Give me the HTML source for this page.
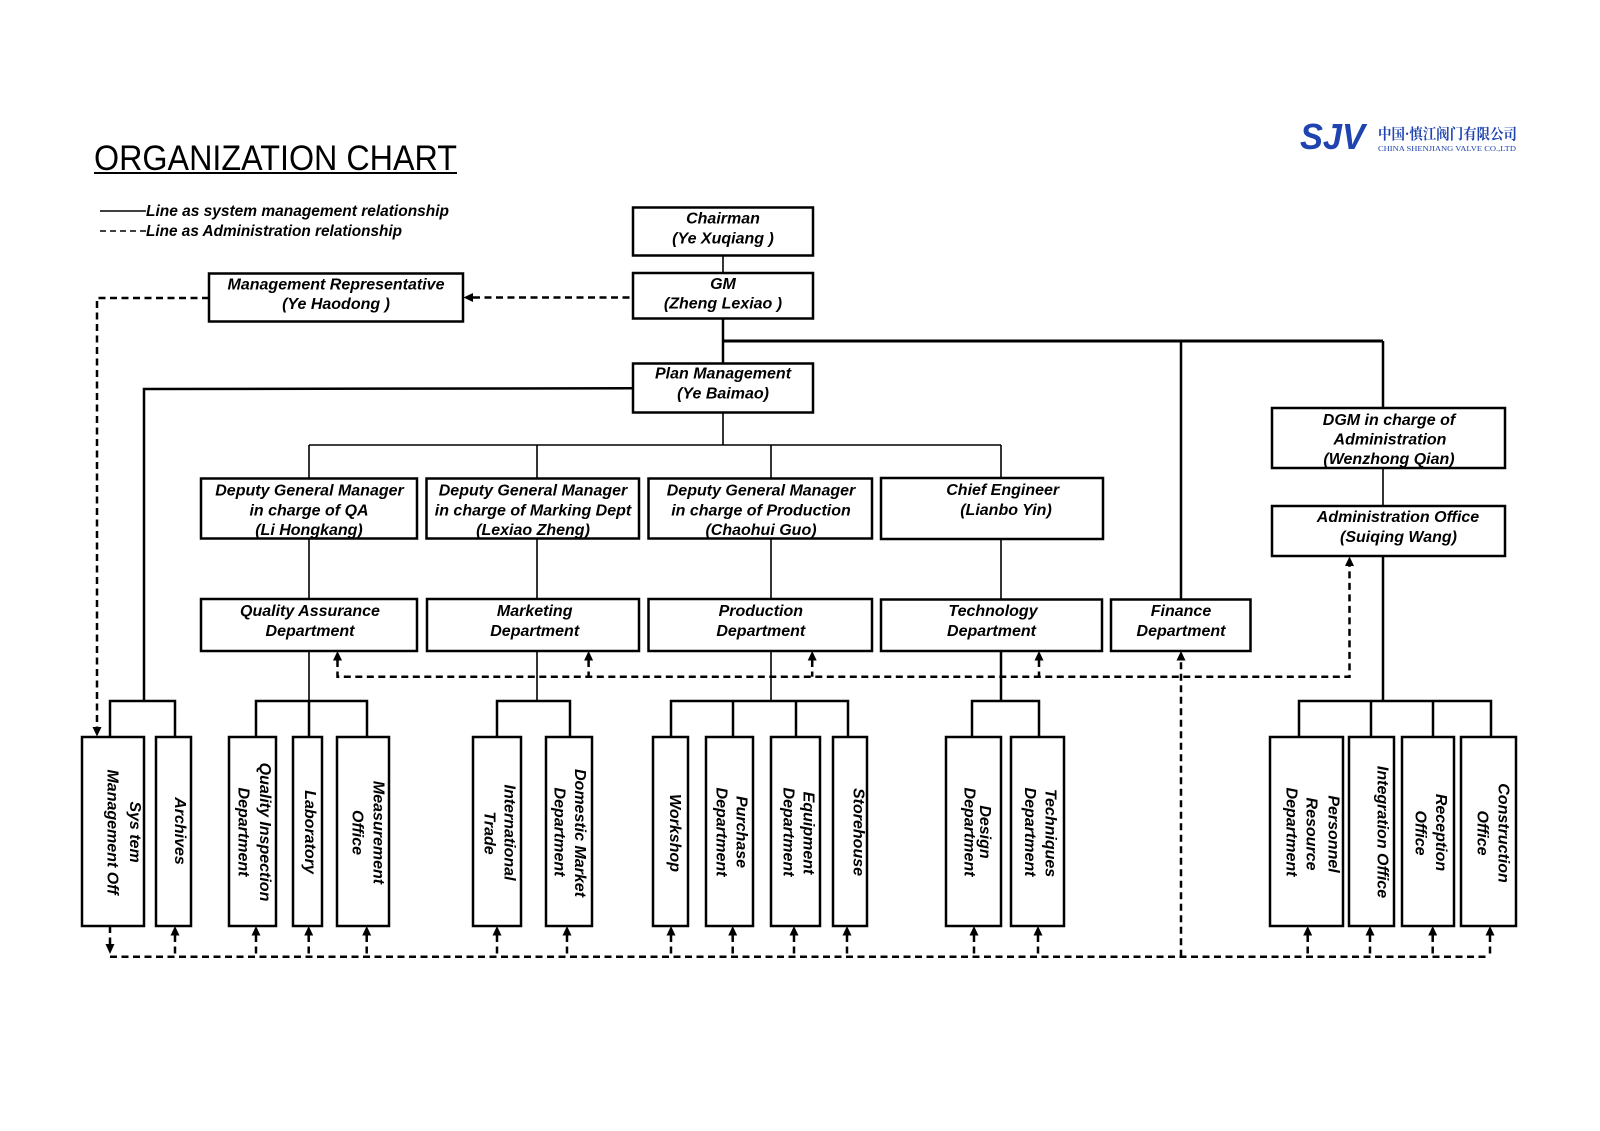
<!DOCTYPE html>
<html>
<head>
<meta charset="utf-8">
<style>
html,body{margin:0;padding:0;background:#fff;}
svg{display:block;}
text{font-family:"Liberation Sans",Arial,sans-serif;font-weight:bold;font-style:italic;font-size:16px;fill:#000;}
.c{text-anchor:middle;}
.box{fill:#fff;stroke:#000;stroke-width:2.5;}
.thin{stroke:#000;stroke-width:1.6;fill:none;}
.thick{stroke:#000;stroke-width:2.5;fill:none;}
.dash{stroke:#000;stroke-width:2.5;fill:none;stroke-dasharray:7 4.5;}
.ar{fill:#000;}
</style>
</head>
<body>
<svg width="1600" height="1131" viewBox="0 0 1600 1131" xmlns="http://www.w3.org/2000/svg">
<rect width="1600" height="1131" fill="#fff"/>

<!-- Title -->
<text x="94" y="170" style="font-style:normal;font-weight:normal;font-size:35px" textLength="363" lengthAdjust="spacingAndGlyphs">ORGANIZATION CHART</text>
<line x1="94" y1="173" x2="457" y2="173" stroke="#000" stroke-width="2"/>

<!-- Legend -->
<line x1="100" y1="211" x2="146" y2="211" stroke="#000" stroke-width="1.6"/>
<text x="146" y="216" textLength="303" lengthAdjust="spacingAndGlyphs">Line as system management relationship</text>
<line x1="100" y1="231" x2="146" y2="231" stroke="#000" stroke-width="1.6" stroke-dasharray="6 4"/>
<text x="146" y="236" textLength="256" lengthAdjust="spacingAndGlyphs">Line as Administration relationship</text>

<!-- Logo -->
<text x="1300" y="149" style="font-size:36px;fill:#1f44b0;font-weight:900" textLength="65" lengthAdjust="spacingAndGlyphs">SJV</text>
<text x="1378" y="139" style="font-family:'Noto Serif CJK SC','Noto Sans CJK SC',serif;font-style:normal;font-size:15px;fill:#1f44b0" textLength="139" lengthAdjust="spacingAndGlyphs">中国·慎江阀门有限公司</text>
<text x="1378" y="151" style="font-family:'Liberation Serif',serif;font-style:normal;font-weight:normal;font-size:7.5px;fill:#1f44b0" textLength="138" lengthAdjust="spacingAndGlyphs">CHINA SHENJIANG VALVE CO.,LTD</text>

<!-- Solid connectors -->
<line class="thin" x1="723" y1="256" x2="723" y2="273"/>
<line class="thick" x1="723" y1="318" x2="723" y2="363"/>
<line x1="723" y1="341" x2="1383" y2="341" stroke="#000" stroke-width="3"/>
<line class="thick" x1="1181" y1="341" x2="1181" y2="599"/>
<line class="thick" x1="1383" y1="341" x2="1383" y2="408"/>
<line class="thin" x1="1383" y1="468" x2="1383" y2="506"/>
<line class="thick" x1="1383" y1="556" x2="1383" y2="701"/>
<polyline class="thick" points="633,388.3 144,389 144,701"/>
<line class="thin" x1="723" y1="412.5" x2="723" y2="445"/>
<line class="thin" x1="309" y1="445" x2="1001" y2="445"/>
<line class="thin" x1="309" y1="445" x2="309" y2="478"/>
<line class="thin" x1="537" y1="445" x2="537" y2="478"/>
<line class="thin" x1="771" y1="445" x2="771" y2="478"/>
<line class="thin" x1="1001" y1="445" x2="1001" y2="478"/>
<line class="thin" x1="309" y1="538.5" x2="309" y2="599"/>
<line class="thin" x1="537" y1="538.5" x2="537" y2="599"/>
<line class="thin" x1="771" y1="538.5" x2="771" y2="599"/>
<line class="thin" x1="1001" y1="539" x2="1001" y2="599.5"/>
<line class="thin" x1="309" y1="651" x2="309" y2="701"/>
<line class="thin" x1="537" y1="651" x2="537" y2="701"/>
<line class="thin" x1="771" y1="651" x2="771" y2="701"/>
<line class="thick" x1="1001" y1="651" x2="1001" y2="701"/>

<!-- Brackets -->
<polyline class="thick" points="110,737 110,701 175,701 175,737"/>
<polyline class="thick" points="256,737 256,701 367,701 367,737"/>
<line class="thick" x1="309" y1="701" x2="309" y2="737"/>
<polyline class="thick" points="497,737 497,701 570,701 570,737"/>
<polyline class="thick" points="671,737 671,701 848,701 848,737"/>
<line class="thick" x1="733" y1="701" x2="733" y2="737"/>
<line class="thick" x1="796" y1="701" x2="796" y2="737"/>
<polyline class="thick" points="972,737 972,701 1039,701 1039,737"/>
<polyline class="thick" points="1299,737 1299,701 1491,701 1491,737"/>
<line class="thick" x1="1371" y1="701" x2="1371" y2="737"/>
<line class="thick" x1="1433" y1="701" x2="1433" y2="737"/>

<!-- Dashed connectors -->
<line class="dash" x1="473" y1="297.5" x2="633" y2="297.5"/>
<polygon class="ar" points="463.5,297.5 473,293 473,302"/>
<polyline class="dash" points="209,298 97,298 97,727"/>
<polygon class="ar" points="97,736.5 92.5,727 101.5,727"/>

<polyline class="dash" points="337.5,660 337.5,676.7 1349.5,676.7 1349.5,565"/>
<line class="dash" x1="588.6" y1="660" x2="588.6" y2="676.7"/>
<line class="dash" x1="812.2" y1="660" x2="812.2" y2="676.7"/>
<line class="dash" x1="1039" y1="660" x2="1039" y2="676.7"/>
<polygon class="ar" points="337.5,651 333,660.5 342,660.5"/>
<polygon class="ar" points="588.6,651 584.1,660.5 593.1,660.5"/>
<polygon class="ar" points="812.2,651 807.7,660.5 816.7,660.5"/>
<polygon class="ar" points="1039,651 1034.5,660.5 1043.5,660.5"/>
<polygon class="ar" points="1349.5,556.5 1345,566 1354,566"/>

<line class="dash" x1="1181" y1="956.7" x2="1181" y2="660"/>
<polygon class="ar" points="1181,651 1176.5,660.5 1185.5,660.5"/>

<polyline class="dash" points="110,926 110,944"/>
<polygon class="ar" points="110,954 105.5,944 114.5,944"/>
<line class="dash" x1="110" y1="956.7" x2="1490" y2="956.7"/>
<g>
<line class="dash" x1="175" y1="935" x2="175" y2="956.7"/><polygon class="ar" points="175,926 170.5,935.5 179.5,935.5"/>
<line class="dash" x1="256" y1="935" x2="256" y2="956.7"/><polygon class="ar" points="256,926 251.5,935.5 260.5,935.5"/>
<line class="dash" x1="308.7" y1="935" x2="308.7" y2="956.7"/><polygon class="ar" points="308.7,926 304.2,935.5 313.2,935.5"/>
<line class="dash" x1="366.7" y1="935" x2="366.7" y2="956.7"/><polygon class="ar" points="366.7,926 362.2,935.5 371.2,935.5"/>
<line class="dash" x1="497" y1="935" x2="497" y2="956.7"/><polygon class="ar" points="497,926 492.5,935.5 501.5,935.5"/>
<line class="dash" x1="567" y1="935" x2="567" y2="956.7"/><polygon class="ar" points="567,926 562.5,935.5 571.5,935.5"/>
<line class="dash" x1="671" y1="935" x2="671" y2="956.7"/><polygon class="ar" points="671,926 666.5,935.5 675.5,935.5"/>
<line class="dash" x1="732.7" y1="935" x2="732.7" y2="956.7"/><polygon class="ar" points="732.7,926 728.2,935.5 737.2,935.5"/>
<line class="dash" x1="794" y1="935" x2="794" y2="956.7"/><polygon class="ar" points="794,926 789.5,935.5 798.5,935.5"/>
<line class="dash" x1="847" y1="935" x2="847" y2="956.7"/><polygon class="ar" points="847,926 842.5,935.5 851.5,935.5"/>
<line class="dash" x1="974" y1="935" x2="974" y2="956.7"/><polygon class="ar" points="974,926 969.5,935.5 978.5,935.5"/>
<line class="dash" x1="1038" y1="935" x2="1038" y2="956.7"/><polygon class="ar" points="1038,926 1033.5,935.5 1042.5,935.5"/>
<line class="dash" x1="1307.7" y1="935" x2="1307.7" y2="956.7"/><polygon class="ar" points="1307.7,926 1303.2,935.5 1312.2,935.5"/>
<line class="dash" x1="1370" y1="935" x2="1370" y2="956.7"/><polygon class="ar" points="1370,926 1365.5,935.5 1374.5,935.5"/>
<line class="dash" x1="1432.7" y1="935" x2="1432.7" y2="956.7"/><polygon class="ar" points="1432.7,926 1428.2,935.5 1437.2,935.5"/>
<line class="dash" x1="1490" y1="935" x2="1490" y2="956.7"/><polygon class="ar" points="1490,926 1485.5,935.5 1494.5,935.5"/>
</g>

<!-- Upper boxes -->
<rect class="box" x="633" y="207.5" width="180" height="48"/>
<text class="c" x="723" y="223.5">Chairman</text>
<text class="c" x="723" y="243.5">(Ye Xuqiang )</text>

<rect class="box" x="633" y="273" width="180" height="45.5"/>
<text class="c" x="723" y="289">GM</text>
<text class="c" x="723" y="308.5">(Zheng Lexiao )</text>

<rect class="box" x="209" y="273.5" width="254" height="48"/>
<text class="c" x="336" y="289.5">Management Representative</text>
<text class="c" x="336" y="309">(Ye Haodong )</text>

<rect class="box" x="633" y="363.5" width="180" height="49"/>
<text class="c" x="723" y="378.5">Plan Management</text>
<text class="c" x="723" y="398.5">(Ye Baimao)</text>

<!-- DGM row -->
<rect class="box" x="201" y="478.5" width="216" height="60"/>
<text class="c" x="309.5" y="495.5">Deputy General Manager</text>
<text class="c" x="309" y="515.5">in charge of  QA</text>
<text class="c" x="309" y="535">(Li Hongkang)</text>

<rect class="box" x="426.5" y="478.5" width="212.5" height="60"/>
<text class="c" x="533" y="495.5">Deputy General Manager</text>
<text class="c" x="533" y="515.5">in charge of Marking Dept</text>
<text class="c" x="533" y="535">(Lexiao Zheng)</text>

<rect class="box" x="648.5" y="478.5" width="223.5" height="60"/>
<text class="c" x="761" y="495.5">Deputy General Manager</text>
<text class="c" x="761" y="515.5">in charge of Production</text>
<text class="c" x="761" y="535">(Chaohui Guo)</text>

<rect class="box" x="881" y="478" width="222" height="61"/>
<text class="c" x="1002.7" y="495">Chief Engineer</text>
<text class="c" x="1006" y="515">(Lianbo Yin)</text>

<rect class="box" x="1272" y="408" width="233" height="60"/>
<text class="c" x="1389" y="425">DGM in charge of</text>
<text class="c" x="1390" y="444.5">Administration</text>
<text class="c" x="1389" y="464">(Wenzhong Qian)</text>

<rect class="box" x="1272" y="506" width="233" height="50"/>
<text class="c" x="1398" y="522">Administration Office</text>
<text class="c" x="1398.5" y="542">(Suiqing Wang)</text>

<!-- Dept row -->
<rect class="box" x="201" y="599" width="216" height="52"/>
<text class="c" x="310" y="616">Quality Assurance</text>
<text class="c" x="310" y="636">Department</text>

<rect class="box" x="427" y="599" width="212" height="52"/>
<text class="c" x="534.7" y="616">Marketing</text>
<text class="c" x="534.7" y="636">Department</text>

<rect class="box" x="648.5" y="599" width="223.5" height="52"/>
<text class="c" x="760.8" y="616">Production</text>
<text class="c" x="760.8" y="636">Department</text>

<rect class="box" x="881" y="599.5" width="221" height="51.5"/>
<text class="c" x="993" y="616">Technology</text>
<text class="c" x="991.5" y="636">Department</text>

<rect class="box" x="1111" y="599.5" width="139.5" height="51.5"/>
<text class="c" x="1181" y="616">Finance</text>
<text class="c" x="1181" y="636">Department</text>

<!-- Bottom boxes -->
<rect class="box" x="82" y="737" width="62" height="189"/>
<rect class="box" x="156" y="737" width="35" height="189"/>
<rect class="box" x="229" y="737" width="47" height="189"/>
<rect class="box" x="293" y="737" width="29" height="189"/>
<rect class="box" x="337" y="737" width="52" height="189"/>
<rect class="box" x="473" y="737" width="48" height="189"/>
<rect class="box" x="546" y="737" width="46" height="189"/>
<rect class="box" x="653" y="737" width="35" height="189"/>
<rect class="box" x="706" y="737" width="47" height="189"/>
<rect class="box" x="771" y="737" width="49" height="189"/>
<rect class="box" x="833" y="737" width="34" height="189"/>
<rect class="box" x="946" y="737" width="55" height="189"/>
<rect class="box" x="1011" y="737" width="53" height="189"/>
<rect class="box" x="1270" y="737" width="73" height="189"/>
<rect class="box" x="1349" y="737" width="45" height="189"/>
<rect class="box" x="1402" y="737" width="52" height="189"/>
<rect class="box" x="1461" y="737" width="55" height="189"/>

<!-- Rotated labels -->
<g>
<text class="c" transform="translate(135,832) rotate(90)" y="5">Sys tem</text>
<text class="c" transform="translate(112.7,832) rotate(90)" y="5">Management Off</text>
<text class="c" transform="translate(180,831) rotate(90)" y="5">Archives</text>
<text class="c" transform="translate(265,832) rotate(90)" y="5">Quality Inspection</text>
<text class="c" transform="translate(243.3,832) rotate(90)" y="5">Department</text>
<text class="c" transform="translate(310,832) rotate(90)" y="5">Laboratory</text>
<text class="c" transform="translate(378.3,832.5) rotate(90)" y="5">Measurement</text>
<text class="c" transform="translate(357.3,832.5) rotate(90)" y="5">Office</text>
<text class="c" transform="translate(509.3,832.5) rotate(90)" y="5">International</text>
<text class="c" transform="translate(489.3,833) rotate(90)" y="5">Trade</text>
<text class="c" transform="translate(580,833) rotate(90)" y="5">Domestic Market</text>
<text class="c" transform="translate(559.3,832) rotate(90)" y="5">Department</text>
<text class="c" transform="translate(675,833) rotate(90)" y="5">Workshop</text>
<text class="c" transform="translate(741.7,832) rotate(90)" y="5">Purchase</text>
<text class="c" transform="translate(721.7,832) rotate(90)" y="5">Department</text>
<text class="c" transform="translate(808.3,833) rotate(90)" y="5">Equipment</text>
<text class="c" transform="translate(788.3,832) rotate(90)" y="5">Department</text>
<text class="c" transform="translate(858.3,832) rotate(90)" y="5">Storehouse</text>
<text class="c" transform="translate(985,832) rotate(90)" y="5">Design</text>
<text class="c" transform="translate(969.3,832) rotate(90)" y="5">Department</text>
<text class="c" transform="translate(1050.7,833) rotate(90)" y="5">Techniques</text>
<text class="c" transform="translate(1030,832) rotate(90)" y="5">Department</text>
<text class="c" transform="translate(1333.3,834) rotate(90)" y="5">Personnel</text>
<text class="c" transform="translate(1311.7,834) rotate(90)" y="5">Resource</text>
<text class="c" transform="translate(1291.7,832) rotate(90)" y="5">Department</text>
<text class="c" transform="translate(1382.3,832) rotate(90)" y="5">Integration Office</text>
<text class="c" transform="translate(1441,832.5) rotate(90)" y="5">Reception</text>
<text class="c" transform="translate(1420.7,833) rotate(90)" y="5">Office</text>
<text class="c" transform="translate(1503.3,833) rotate(90)" y="5">Construction</text>
<text class="c" transform="translate(1482.3,833) rotate(90)" y="5">Office</text>
</g>
</svg>
</body>
</html>
